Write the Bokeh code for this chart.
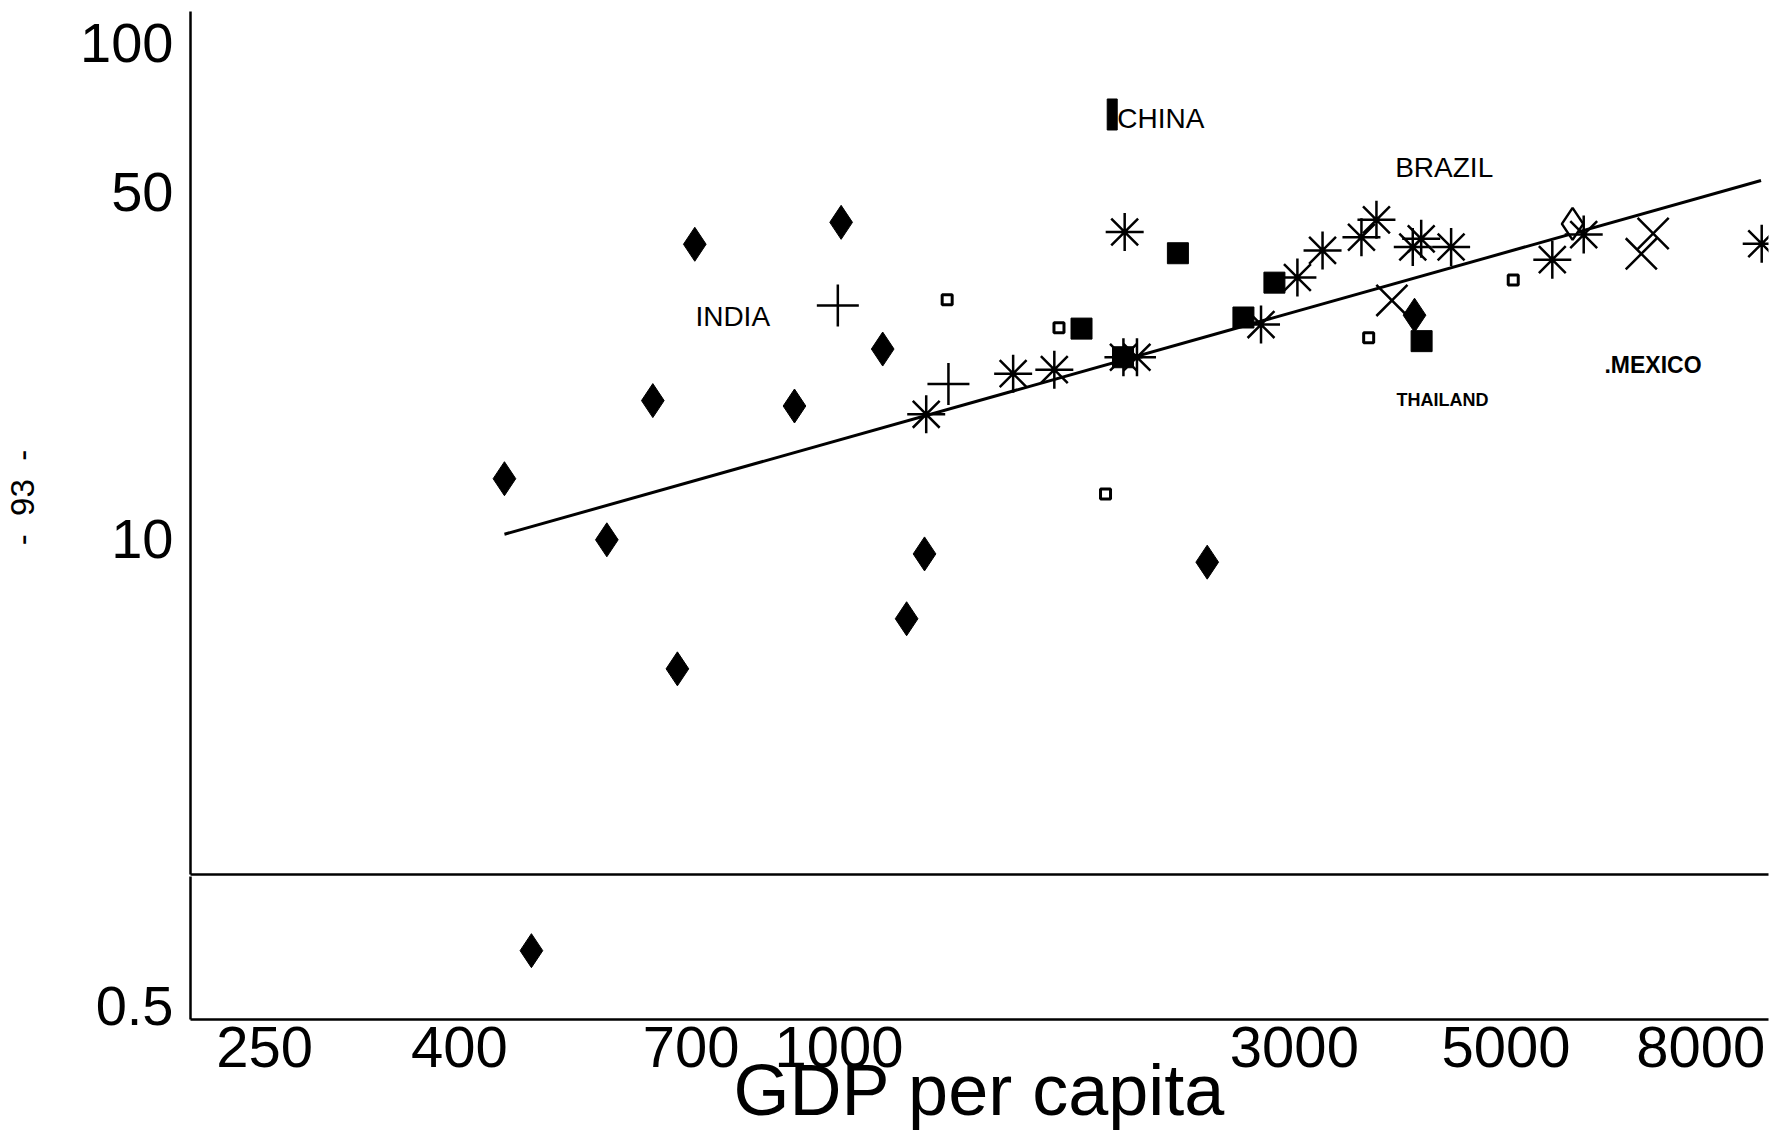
import math
from bokeh.plotting import figure
from bokeh.layouts import column, row
from bokeh.models import Range1d, FixedTicker, BasicTickFormatter
from bokeh.core.properties import value
from bokeh.embed import file_html
from bokeh.resources import INLINE

# ---- data (x = GDP per capita, log-log) ----
diamond_x = [446, 571, 638, 677, 706, 898, 1005, 1111, 1177, 1229, 2431, 4009]
diamond_y = [13.2, 9.94, 18.97, 5.46, 39.2, 18.5, 43.4, 24.1, 6.89, 9.31, 8.96, 28.2]
diamond_low_x = [476]          # point below the axis break
diamond_low_y = [0.645]
diamond_open_x = [5870]
diamond_open_y = [43.1]
plus_x = [997, 1302]
plus_y = [29.5, 20.5]
asterisk_x = [1234, 1522, 1681, 1992, 1986, 2052, 2768, 3022, 3211, 3527,
              3657, 3992, 4074, 4379, 5590, 6030, 9265]
asterisk_y = [17.8, 21.5, 21.9, 41.5, 23.2, 23.2, 27.0, 33.6, 38.1, 40.5,
              43.9, 38.7, 40.2, 38.7, 36.5, 41.0, 39.3]
cross_x = [3796, 6929, 7130]
cross_y = [30.2, 37.5, 41.2]
square_x = [1795, 1984, 2265, 2653, 2859, 4078]
square_y = [26.5, 23.2, 37.6, 27.9, 32.8, 25.0]
small_square_x = [1298, 1700, 1902, 3589, 5087]
small_square_y = [30.3, 26.6, 12.3, 25.4, 33.2]
fit_x = [446, 9250]
fit_y = [10.2, 52.7]

x_ticks = [250, 400, 700, 1000, 3000, 5000, 8000]
y_ticks_upper = [10, 50, 100]
y_ticks_lower = [0.5]

country_labels = ["CHINA", "BRAZIL", "INDIA"]
country_x = [1957, 3826, 707]
country_y = [70.2, 56.0, 28.0]
bold_labels = ["THAILAND", ".MEXICO"]
bold_x = [3839, 6339]
bold_y = [19.06, 22.33]

FONT = "Liberation Sans"
LEFT_W = 40
W = 1735

x_range = Range1d(209.1, 9418)

def style(p):
    p.xgrid.visible = False
    p.ygrid.visible = False
    p.outline_line_color = None
    p.background_fill_color = "white"
    p.border_fill_color = "white"
    for ax in p.axis:
        ax.axis_line_width = 2.5
        ax.axis_line_color = "black"
        ax.major_tick_out = 0
        ax.major_tick_in = 0
        ax.minor_tick_out = 0
        ax.minor_tick_in = 0
        ax.major_tick_line_color = None
        ax.minor_tick_line_color = None
        ax.major_label_text_font = FONT
        ax.major_label_text_color = "black"
        ax.formatter = BasicTickFormatter(use_scientific=False)

# ---- page-number strip on the left ----
pn = figure(width=LEFT_W, height=1134, x_range=(0, 1), y_range=(0, 1),
            output_backend="svg", toolbar_location=None,
            x_axis_location=None, y_axis_location=None, min_border=0)
pn.xgrid.visible = False
pn.ygrid.visible = False
pn.outline_line_color = None
pn.text(x=[0.55], y=[0.5617], text=["-\u00a0\u00a093\u00a0\u00a0-"],
        angle=math.pi / 2,
        text_font=value(FONT), text_font_size="33px", text_color="black",
        text_align="center", text_baseline="middle")

# ---- upper panel ----
p1 = figure(width=W, height=876, x_axis_type="log", y_axis_type="log",
            x_range=x_range, y_range=Range1d(2.1017, 115.5),
            output_backend="svg", toolbar_location=None,
            min_border_left=150, min_border_right=7,
            min_border_top=11, min_border_bottom=2)
style(p1)
p1.yaxis.ticker = FixedTicker(ticks=y_ticks_upper)
p1.yaxis.major_label_text_font_size = "56px"
p1.yaxis.major_label_standoff = 17
p1.xaxis.ticker = FixedTicker(ticks=[])
p1.xaxis.major_label_text_font_size = "0px"
p1.xaxis.major_label_standoff = 0

p1.line(fit_x, fit_y, line_color="black", line_width=3)
p1.scatter(diamond_x, diamond_y, marker="diamond", size=34,
           fill_color="black", line_color="black", line_width=1)
p1.scatter(diamond_open_x, diamond_open_y, marker="diamond", size=32,
           fill_color="white", line_color="black", line_width=2.5)
p1.scatter(plus_x, plus_y, marker="cross", size=42,
           line_color="black", line_width=2.5)
p1.scatter(square_x, square_y, marker="square", size=21,
           fill_color="black", line_color="black")
p1.scatter(small_square_x, small_square_y, marker="square", size=10,
           fill_color="white", line_color="black", line_width=3)
p1.scatter(asterisk_x, asterisk_y, marker="asterisk", size=38,
           line_color="black", line_width=2.5)
p1.scatter(cross_x, cross_y, marker="x", size=44,
           line_color="black", line_width=2.5)

p1.rect(x=[1933], y=[71.6], width=10, height=31,
        width_units="screen", height_units="screen",
        fill_color="black", line_color="black")
p1.text(x=country_x, y=country_y, text=country_labels,
        text_font=value(FONT), text_font_size="28px", text_color="black",
        text_align="left", text_baseline="middle")
p1.text(x=bold_x, y=bold_y, text=bold_labels,
        text_font=value(FONT), text_font_style="bold",
        text_font_size=["18px", "23px"], text_color="black",
        text_align="left", text_baseline="middle")

# ---- lower panel (below the axis break) ----
p2 = figure(width=W, height=258, x_axis_type="log", y_axis_type="log",
            x_range=x_range, y_range=Range1d(0.4686, 0.910),
            output_backend="svg", toolbar_location=None,
            min_border_left=150, min_border_right=7,
            min_border_top=0, min_border_bottom=115)
style(p2)
p2.yaxis.ticker = FixedTicker(ticks=y_ticks_lower)
p2.yaxis.major_label_text_font_size = "56px"
p2.yaxis.major_label_standoff = 17
p2.xaxis.ticker = FixedTicker(ticks=x_ticks)
p2.xaxis.major_label_text_font_size = "58px"
p2.xaxis.major_label_standoff = 7
p2.xaxis.axis_label = "GDP per capita"
p2.xaxis.axis_label_text_font = FONT
p2.xaxis.axis_label_text_font_style = "normal"
p2.xaxis.axis_label_text_font_size = "72px"
p2.xaxis.axis_label_text_color = "black"
p2.xaxis.axis_label_standoff = -20

p2.scatter(diamond_low_x, diamond_low_y, marker="diamond", size=34,
           fill_color="black", line_color="black", line_width=1)

layout = row(pn, column(p1, p2, spacing=0), spacing=0)
open("out.html", "w").write(file_html(layout, INLINE))
